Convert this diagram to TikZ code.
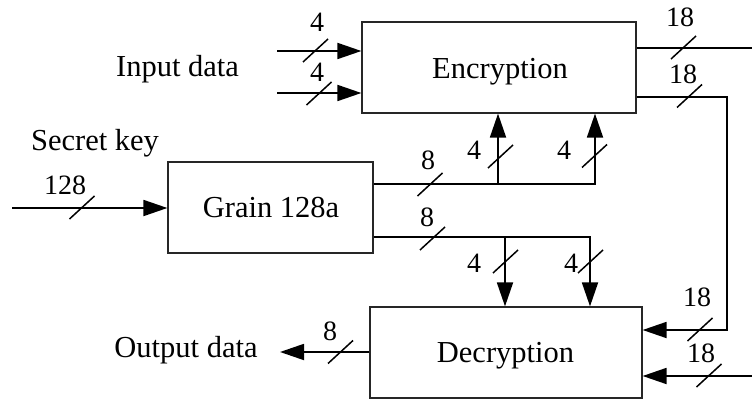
\documentclass[tikz,border=0pt]{standalone}
\usepackage{fontspec}
\setmainfont{Liberation Serif}
\usetikzlibrary{arrows.meta,calc}
\begin{document}
\begin{tikzpicture}[x=1pt,y=-1pt,
  block/.style={draw=black!85,line width=1.2pt,minimum width=#1,minimum height=91pt,
    inner sep=0pt},
  wire/.style={line width=1.8pt},
  sig/.style={wire,-{Triangle[length=24pt,width=16pt]}},
  word/.style={font=\fontsize{30.5}{36}\selectfont,inner sep=0pt,anchor=base},
  lbl/.style={font=\fontsize{28}{34}\selectfont,inner sep=0pt},
  bus/.pic={\draw[line width=1.5pt] (-12.5,11.5) -- (12.5,-11.5);}
]
\useasboundingbox (0,0) rectangle (752,401);

% blocks
\node[block=274pt] (enc)   at (499,67.5)  {};
\node[block=205pt] (grain) at (270.5,207.5) {};
\node[block=272pt] (dec)   at (506,352.5) {};
\node[word] (enct) at (500,79) {Encryption};
\node[word] (grt)  at (271,217) {Grain 128a};
\node[word] (dect) at (505.5,362) {Decryption};

% junction and end points
\coordinate (in1) at (277,51);
\coordinate (in2) at (277,93);
\coordinate (o1) at (752,48);
\coordinate (t1) at (727,97);
\coordinate (t2) at (727,330);
\coordinate (in3) at (752,376);
\coordinate (key) at (12,208);
\coordinate (gaM) at (498,184);
\coordinate (gaR) at (595,184);
\coordinate (gbM) at (505,237);
\coordinate (gbR) at (590,237);
\coordinate (out) at (280,352);

% connectors
\draw[sig] (in1) -- (in1 -| enc.west);
\draw[sig] (in2) -- (in2 -| enc.west);
\draw[wire] (o1 -| enc.east) -- (o1);
\draw[sig] (enc.east |- t1) -- (t1) -- (t2) -- (t2 -| dec.east);
\draw[sig] (in3) -- (in3 -| dec.east);
\draw[sig] (key) -- (key -| grain.west);
\draw[sig] (grain.east |- gaR) -- (gaR) -- (gaR |- enc.south);
\draw[sig] (gaM) -- (gaM |- enc.south);
\draw[sig] (grain.east |- gbR) -- (gbR) -- (gbR |- dec.north);
\draw[sig] (gbM) -- (gbM |- dec.north);
\draw[sig] (dec.west |- out) -- (out);

% bus-width marks
\pic at (315.5,50.5) {bus};
\pic at (319,93.5) {bus};
\pic at (683.5,47.5) {bus};
\pic at (689.5,96) {bus};
\pic at (700,329.5) {bus};
\pic at (709,375.5) {bus};
\pic at (82,207.5) {bus};
\pic at (430,184.5) {bus};
\pic at (500.5,156.5) {bus};
\pic at (594.5,156) {bus};
\pic at (432.5,238.5) {bus};
\pic at (505.5,261.5) {bus};
\pic at (590.5,261.5) {bus};
\pic at (340.5,352) {bus};

% bus widths
\node[lbl] (w1) at (317,22.5) {4};
\node[lbl] (w2) at (317,72) {4};
\node[lbl] (w3) at (680,17) {18};
\node[lbl] (w4) at (683,74) {18};
\node[lbl] (w5) at (697,297) {18};
\node[lbl] (w6) at (701,353) {18};
\node[lbl] (w7) at (65,185) {128};
\node[lbl] (w8) at (428,160) {8};
\node[lbl] (w9) at (474,150) {4};
\node[lbl] (w10) at (564,150) {4};
\node[lbl] (w11) at (427,217) {8};
\node[lbl] (w12) at (474,263) {4};
\node[lbl] (w13) at (571,263) {4};
\node[lbl] (w14) at (330,331) {8};

% signal names
\node[word] (inname) at (177.5,77) {Input data};
\node[word] (keyname) at (95,150) {Secret key};
\node[word] (outname) at (186,357) {Output data};
\end{tikzpicture}
\end{document}
